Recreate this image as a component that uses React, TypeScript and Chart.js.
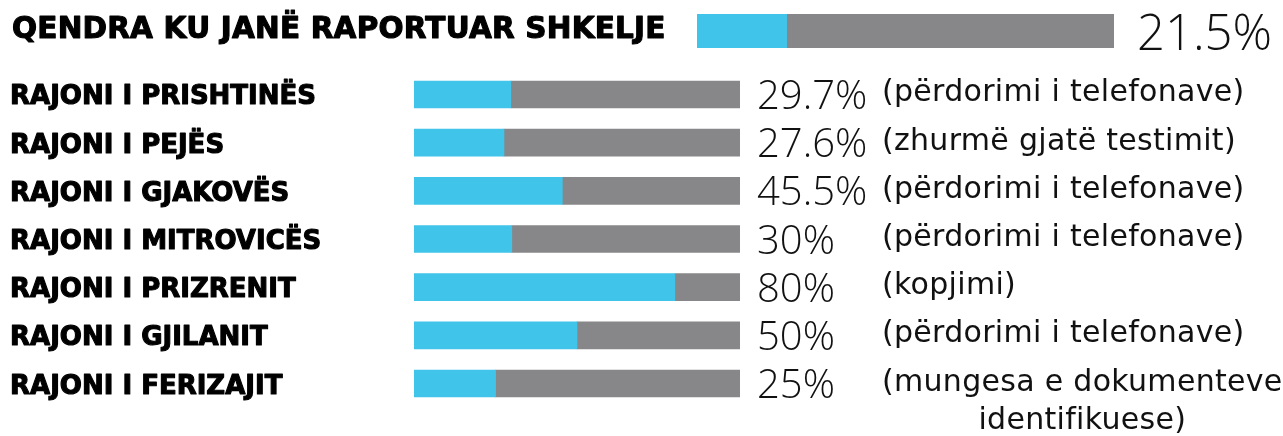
import React, { useEffect, useRef } from "react";
import { Chart, registerables } from "chart.js";

Chart.register(...registerables);

// ---- data ----
const TOTAL_LABEL = ["QENDRA KU JANË RAPORTUAR SHKELJE"];
const TOTAL_RATE = [21.5];
const REGIONS = [
  "RAJONI I PRISHTINËS",
  "RAJONI I PEJËS",
  "RAJONI I GJAKOVËS",
  "RAJONI I MITROVICËS",
  "RAJONI I PRIZRENIT",
  "RAJONI I GJILANIT",
  "RAJONI I FERIZAJIT",
];
const RATES = [29.7, 27.6, 45.5, 30, 80, 50, 25];
const REASONS = [
  ["(përdorimi i telefonave)"],
  ["(zhurmë gjatë testimit)"],
  ["(përdorimi i telefonave)"],
  ["(përdorimi i telefonave)"],
  ["(kopjimi)"],
  ["(përdorimi i telefonave)"],
  ["(mungesa e dokumenteve", "identifikuese)"],
];
const SCALE_MAX = 100;

// ---- styles ----
const W = 1283;
const BLUE = "#40C4E9";
const GREY = "#878789";
const BOLD_FONT = '"DejaVu Sans"';
const LIGHT_FONT = '"Open Sans"';
const TEXT_FONT = '"DejaVu Sans"';

function fmt(v: number) {
  return String(v) + "%";
}

function ascentOf(ctx: CanvasRenderingContext2D, s: string) {
  return ctx.measureText(s).actualBoundingBoxAscent;
}

function heavyText(ctx: CanvasRenderingContext2D, s: string, x: number, y: number) {
  ctx.lineWidth = 1.1;
  ctx.strokeStyle = "#000";
  ctx.lineJoin = "round";
  ctx.strokeText(s, x, y);
  ctx.fillText(s, x, y);
}

function buildDatasets(values: number[], thickness: number) {
  return [
    {
      data: values.map((v) => [0, v]),
      backgroundColor: BLUE,
      borderWidth: 0,
      barThickness: thickness,
      grouped: false,
      order: 0,
    },
    {
      data: values.map((v) => [v, SCALE_MAX]),
      backgroundColor: GREY,
      borderWidth: 0,
      barThickness: thickness,
      grouped: false,
      order: 1,
    },
  ];
}

function baseOptions(padding: any) {
  return {
    indexAxis: "y" as const,
    responsive: false,
    animation: false as const,
    layout: { padding },
    scales: {
      x: { display: false, min: 0, max: SCALE_MAX },
      y: { display: false },
    },
    plugins: { legend: { display: false }, tooltip: { enabled: false } },
  };
}

const topTextPlugin = {
  id: "topText",
  afterDatasetsDraw(chart: any) {
    const ctx: CanvasRenderingContext2D = chart.ctx;
    const meta = chart.getDatasetMeta(0);
    const area = chart.chartArea;
    meta.data.forEach((bar: any, i: number) => {
      const y = bar.y;
      ctx.save();
      ctx.fillStyle = "#000";
      ctx.textAlign = "left";
      ctx.textBaseline = "alphabetic";
      ctx.font = `bold 29.5px ${BOLD_FONT}`;
      (ctx as any).letterSpacing = "0.2px";
      let a = ascentOf(ctx, "H");
      heavyText(ctx, TOTAL_LABEL[i], 12, y + a / 2 - 4);
      (ctx as any).letterSpacing = "0px";
      ctx.font = `300 49px ${LIGHT_FONT}`;
      ctx.fillStyle = "#111";
      a = ascentOf(ctx, "0");
      ctx.fillText(fmt(TOTAL_RATE[i]), area.right + 23, y + a / 2);
      ctx.restore();
    });
  },
};

const rowTextPlugin = {
  id: "rowText",
  afterDatasetsDraw(chart: any) {
    const ctx: CanvasRenderingContext2D = chart.ctx;
    const meta = chart.getDatasetMeta(0);
    const area = chart.chartArea;
    meta.data.forEach((bar: any, i: number) => {
      const y = bar.y;
      ctx.save();
      ctx.textAlign = "left";
      ctx.textBaseline = "alphabetic";
      ctx.fillStyle = "#000";
      ctx.font = `bold 26px ${BOLD_FONT}`;
      let a = ascentOf(ctx, "H");
      heavyText(ctx, REGIONS[i], 10, y + a / 2);

      ctx.font = `300 40px ${LIGHT_FONT}`;
      ctx.fillStyle = "#111";
      a = ascentOf(ctx, "0");
      ctx.fillText(fmt(RATES[i]), area.right + 17, y + a / 2);

      ctx.font = `30px ${TEXT_FONT}`;
      (ctx as any).letterSpacing = "0.3px";
      ctx.fillStyle = "#111";
      const lines = REASONS[i];
      const x0 = area.right + 142;
      const base = y + 7;
      if (lines.length === 1) {
        ctx.fillText(lines[0], x0, base);
      } else {
        const w0 = ctx.measureText(lines[0]).width;
        const cx = x0 + w0 / 2;
        ctx.textAlign = "center";
        lines.forEach((ln, k) => ctx.fillText(ln, cx, base + k * 38));
      }
      ctx.restore();
    });
  },
};

export default function App() {
  const topRef = useRef<HTMLCanvasElement>(null);
  const rowsRef = useRef<HTMLCanvasElement>(null);

  useEffect(() => {
    const topChart = new Chart(topRef.current as HTMLCanvasElement, {
      type: "bar",
      data: { labels: TOTAL_LABEL, datasets: buildDatasets(TOTAL_RATE, 34) as any },
      options: baseOptions({ left: 697, right: W - 1114, top: 14, bottom: 14 }) as any,
      plugins: [topTextPlugin],
    });
    const rowsChart = new Chart(rowsRef.current as HTMLCanvasElement, {
      type: "bar",
      data: { labels: REGIONS, datasets: buildDatasets(RATES, 27) as any },
      options: baseOptions({ left: 414, right: W - 740, top: 8.4, bottom: 28.4 }) as any,
      plugins: [rowTextPlugin],
    });
    return () => {
      topChart.destroy();
      rowsChart.destroy();
    };
  }, []);

  return (
    <div style={{ position: "absolute", left: 0, top: 0, width: W, height: 436, background: "#fff" }}>
      <canvas
        ref={topRef}
        width={W}
        height={62}
        style={{ position: "absolute", left: 0, top: 0, width: W, height: 62, display: "block" }}
      />
      <canvas
        ref={rowsRef}
        width={W}
        height={374}
        style={{ position: "absolute", left: 0, top: 62, width: W, height: 374, display: "block" }}
      />
    </div>
  );
}
